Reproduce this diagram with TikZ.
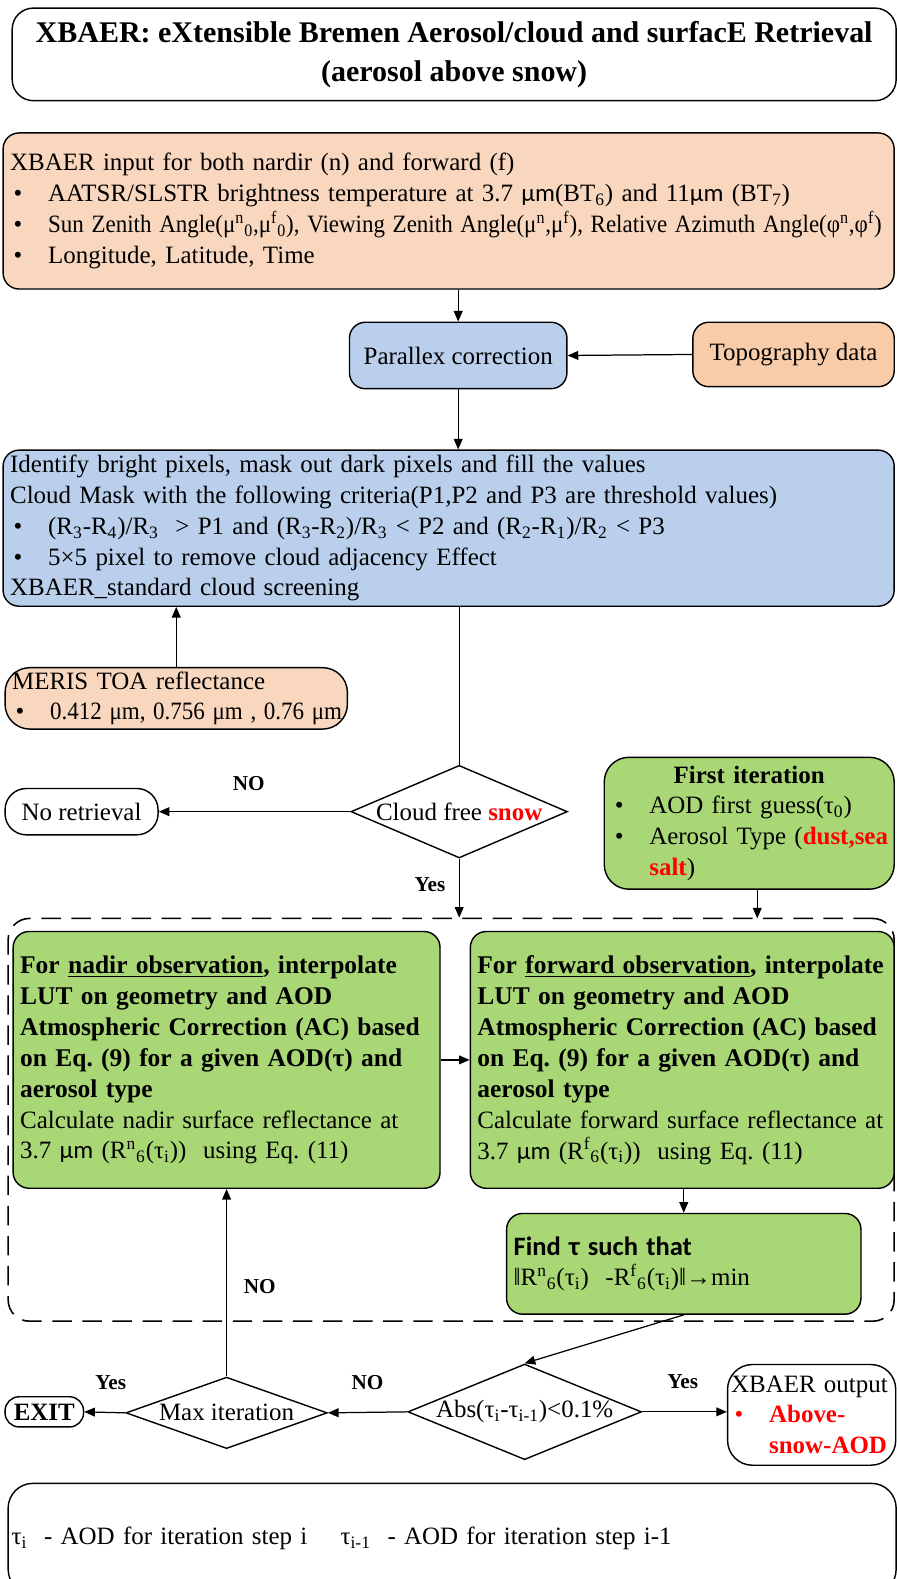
\documentclass[tikz,border=0pt]{standalone}
\usepackage{fontspec}
\setmainfont{Liberation Serif}
\newfontfamily\calibri[Ligatures=NoCommon]{Carlito}
\usepackage{tikz}
\usetikzlibrary{shapes.geometric, arrows.meta, positioning, calc}
\usepackage{xcolor}
\usepackage{graphicx}
\definecolor{peach}{RGB}{249,215,190}
\definecolor{topo}{RGB}{248,204,168}
\definecolor{skyblue}{RGB}{185,207,236}
\definecolor{leaf}{RGB}{169,215,118}
\newcommand{\itm}{\hspace*{2pt}\makebox[19.5pt][l]{\textbullet}}
\newcommand{\mum}{{\calibri μm}}
\frenchspacing

\begin{document}
\begin{tikzpicture}[
    x=0.02cm, y=-0.02cm,
    edge/.style={-{Triangle[length=6pt,width=5pt]}, line width=0.7pt},
    plain/.style={line width=0.7pt},
    box/.style={rectangle, draw, rounded corners=9pt, line width=0.8pt, inner xsep=0.14cm, inner ysep=0pt, font=\fontsize{14.1}{17.4}\selectfont},
    txt/.style={box, align=left},
    dia/.style={diamond, draw, line width=0.8pt, aspect=1, inner sep=0pt, fill=white, font=\fontsize{14.1}{17.4}\selectfont},
    lbl/.style={font=\fontsize{12}{14}\selectfont\bfseries},
    bold/.style={font=\fontsize{14.4}{17.6}\selectfont},
    loopbox/.style={rectangle, draw, rounded corners=12pt, line width=0.9pt, dash pattern=on 11pt off 6pt}
]
    \fill[white] (0,0) rectangle (890,1568);
    \useasboundingbox (0,0) rectangle (890,1568);

    % dashed iteration frame
    \node[loopbox, minimum width=17.6cm, minimum height=8cm] (loop) at (448,1112) {};

    \node[box, align=center, rounded corners=12pt, minimum width=17.56cm, minimum height=1.84cm,
          font=\fontsize{16.95}{21.8}\selectfont\bfseries] (title) at (451,54)
        {XBAER: eXtensible Bremen Aerosol/cloud and surfacE Retrieval\\(aerosol above snow)};

    \node[txt, fill=peach, minimum width=17.7cm, minimum height=3.1cm, text width=17.42cm] (input) at (445.5,209.5)
        {XBAER input for both nardir (n) and forward (f)\\
         \itm AATSR/SLSTR brightness temperature at 3.7 \mum(BT\textsubscript{6}) and 11\mum\ (BT\textsubscript{7})\\
         \itm\resizebox{16.56cm}{\height}{Sun Zenith Angle(μ\textsuperscript{n}\textsubscript{0},μ\textsuperscript{f}\textsubscript{0}), Viewing Zenith Angle(μ\textsuperscript{n},μ\textsuperscript{f}), Relative Azimuth Angle(φ\textsuperscript{n},φ\textsuperscript{f})}\\
         \itm Longitude, Latitude, Time};

    \node[box, fill=skyblue, minimum width=4.32cm, minimum height=1.32cm] (par) at (455,353) {Parallex correction};
    \node[box, fill=topo, minimum width=4.0cm, minimum height=1.28cm] (topo) at (788,352) {Topography data};

    \node[txt, fill=skyblue, minimum width=17.7cm, minimum height=3.1cm, text width=17.42cm] (cloud) at (445.5,524.5)
        {Identify bright pixels, mask out dark pixels and fill the values\\
         Cloud Mask with the following criteria(P1,P2 and P3 are threshold values)\\
         \itm (R\textsubscript{3}-R\textsubscript{4})/R\textsubscript{3}\ \ > P1 and (R\textsubscript{3}-R\textsubscript{2})/R\textsubscript{3} < P2 and (R\textsubscript{2}-R\textsubscript{1})/R\textsubscript{2} < P3\\
         \itm 5×5 pixel to remove cloud adjacency Effect\\
         XBAER\_standard cloud screening};

    \node[txt, fill=peach, rounded corners=14pt, minimum width=6.8cm, minimum height=1.22cm, text width=6.52cm] (meris) at (175,693.5)
        {MERIS TOA reflectance\\
         \itm\resizebox{5.8cm}{\height}{0.412 μm, 0.756 μm , 0.76 μm}};

    \node[dia, minimum width=4.3cm, minimum height=1.84cm] (free) at (456,806)
        {\makebox[0pt]{Cloud free \textcolor{red}{\textbf{snow}}}};
    \node[box, rounded corners=12pt, minimum width=3.04cm, minimum height=0.92cm] (noret) at (81,806) {No retrieval};

    \node[txt, fill=leaf, rounded corners=14pt, minimum width=5.76cm, minimum height=2.62cm, text width=5.48cm] (first) at (744,817.5)
        {\makebox[\linewidth]{\textbf{First iteration}}\\
         \itm AOD first guess(τ\textsubscript{0})\\
         \mbox{\itm Aerosol Type (\textcolor{red}{\textbf{dust,sea}}}\\
         \hspace*{21.5pt}\textcolor{red}{\textbf{salt}})};

    \coordinate (itin) at (752,912);

    \node[txt, fill=leaf, minimum width=8.48cm, minimum height=5.1cm, text width=8.2cm] (nadir) at (225,1052.5)
        {{\fontsize{14.4}{17.6}\selectfont\bfseries For \underline{nadir observation}, interpolate\\
         LUT on geometry and AOD\\
         Atmospheric Correction (AC) based\\
         on Eq. (9) for a given AOD(τ) and\\
         aerosol type}\\
         \mbox{Calculate nadir surface reflectance at}\\
         3.7 \mum\ (R\textsuperscript{n}\textsubscript{6}(τ\textsubscript{i}))\ \ using Eq. (11)};

    \node[txt, fill=leaf, minimum width=8.42cm, minimum height=5.1cm, text width=8.14cm] (fwd) at (677.5,1052.5)
        {{\fontsize{14.4}{17.6}\selectfont\bfseries \mbox{For \underline{forward observation}, interpolate}\\
         LUT on geometry and AOD\\
         Atmospheric Correction (AC) based\\
         on Eq. (9) for a given AOD(τ) and\\
         aerosol type}\\
         \mbox{Calculate forward surface reflectance at}\\
         3.7 \mum\ (R\textsuperscript{f}\textsubscript{6}(τ\textsubscript{i}))\ \ using Eq. (11)};

    \node[txt, fill=leaf, minimum width=7.04cm, minimum height=2.0cm, text width=6.76cm] (find) at (679,1255)
        {{\calibri\bfseries\fontsize{15}{17.4}\selectfont Find τ such that}\\
         ‖R\textsuperscript{n}\textsubscript{6}(τ\textsubscript{i})\ \ -R\textsuperscript{f}\textsubscript{6}(τ\textsubscript{i})‖→min};

    \node[dia, minimum width=4.64cm, minimum height=1.9cm] (abs) at (521,1402)
        {\makebox[0pt]{Abs(τ\textsubscript{i}-τ\textsubscript{i-1})<0.1\%}};
    \node[dia, minimum width=4.0cm, minimum height=1.42cm] (maxit) at (225,1403)
        {\makebox[0pt]{Max iteration}};
    \node[box, rounded corners=8pt, minimum width=1.56cm, minimum height=0.6cm, inner xsep=2pt, font=\fontsize{14.1}{17.4}\selectfont\bfseries] (exit) at (44,1402) {EXIT};

    \node[txt, rounded corners=14pt, minimum width=3.34cm, minimum height=2.0cm, text width=3.2cm, inner xsep=0.07cm] (out) at (806,1405)
        {\mbox{XBAER output}\\
         \textcolor{red}{\itm\textbf{Above-}}\\
         \hspace*{21.5pt}\textcolor{red}{\textbf{snow-AOD}}};

    \node[txt, rounded corners=14pt, minimum width=17.64cm, minimum height=2.2cm, text width=17.5cm, inner xsep=0.07cm] (legend) at (449,1528)
        {τ\textsubscript{i}\ \ - AOD for iteration step i\ \ \ \ τ\textsubscript{i-1}\ \ - AOD for iteration step i-1};

    % connectors
    \draw[edge] (par.north |- input.south) -- (par.north);
    \draw[edge] (topo.west) -- (par.east);
    \draw[edge] (par.south) -- (par.south |- cloud.north);
    \draw[edge] (meris.north) -- (meris.north |- cloud.south);
    \draw[plain] (free.north |- cloud.south) -- (free.north);
    \draw[edge] (free.west) -- (noret.east);
    \draw[edge] (free.south) -- (free.south |- loop.north);
    \draw[edge] (first.south -| itin) -- (itin);
    \draw[edge] (nadir.east) -- (fwd.west);
    \draw[edge] (find.north |- fwd.south) -- (find.north);
    \draw[edge] (find.south) -- (abs.north);
    \draw[edge] (abs.west) -- (maxit.east);
    \draw[edge] (abs.east) -- (abs.east -| out.west);
    \draw[edge] (maxit.west) -- (exit.east);
    \draw[edge] (maxit.north) -- (nadir.south);

    \node[lbl] (lno1) at (247,778) {NO};
    \node[lbl] (lyes1) at (427,878) {Yes};
    \node[lbl] (lno2) at (258,1278) {NO};
    \node[lbl] (lyes2) at (110,1373) {Yes};
    \node[lbl] (lno3) at (365,1373) {NO};
    \node[lbl] (lyes3) at (678,1372) {Yes};
\end{tikzpicture}
\end{document}
